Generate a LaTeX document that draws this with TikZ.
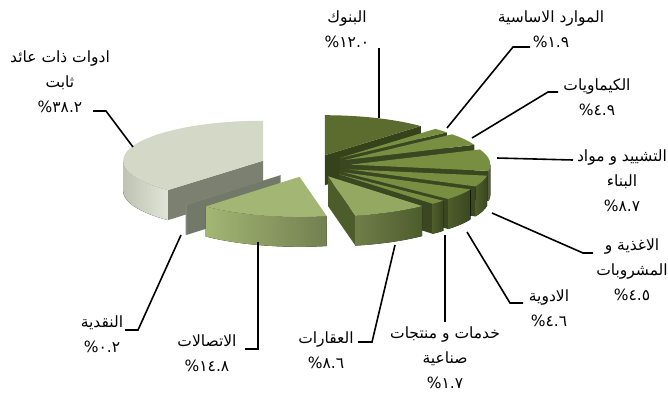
\documentclass[tikz,border=0pt]{standalone}
\usepackage{fontspec}
\newfontfamily\arabicfont[Script=Arabic]{DejaVu Sans}
\TeXXeTstate=1
\usetikzlibrary{positioning}

\definecolor{fixedtop}{HTML}{D3D9C6}
\definecolor{fixedside}{HTML}{7B8071}
\definecolor{cashtop}{HTML}{80867A}
\definecolor{cashside}{HTML}{737968}
\definecolor{commtop}{HTML}{A3B673}
\definecolor{realtop}{HTML}{94A862}
\definecolor{realside}{HTML}{4D5C2B}
\definecolor{banktop}{HTML}{5C6C2F}
\definecolor{bankside}{HTML}{35421A}
\definecolor{olivetop}{HTML}{788F41}
\definecolor{oliveside}{HTML}{3A4720}

\tikzset{
  leader/.style={draw=black, line width=1.6pt},
  sectorlabel/.style={font=\arabicfont\fontsize{15.5}{25}\selectfont, align=center, inner sep=0pt},
}

% one exploded slice: start, end, explode, top, side, rim
\newcommand{\pieslice}[6]{%
  \begin{scope}[shift={({(#1+#2)/2}:{#3*140pt} and {#3*40pt})}]
    \pgfmathsetmacro{\cosa}{cos(#1)}%
    \pgfmathsetmacro{\cosb}{cos(#2)}%
    \pgfmathsetmacro{\rima}{max(#1,-180)}%
    \pgfmathsetmacro{\rimb}{min(#2,0)}%
    \ifdim\cosa pt>0.001pt
      \fill[#5] (0pt,0pt) -- (#1:140pt and 40pt) -- ++(0pt,-30pt) -- (0pt,-30pt) -- cycle;
    \fi
    \ifdim\cosb pt<-0.001pt
      \fill[#5] (0pt,0pt) -- (#2:140pt and 40pt) -- ++(0pt,-30pt) -- (0pt,-30pt) -- cycle;
    \fi
    \ifdim\rima pt<\rimb pt
      \fill[#6] (\rima:140pt and 40pt) arc[start angle=\rima, end angle=\rimb, x radius=140pt, y radius=40pt]
        -- ++(0pt,-30pt) arc[start angle=\rimb, end angle=\rima, x radius=140pt, y radius=40pt] -- cycle;
    \fi
    \fill[#4] (0pt,0pt) -- (#1:140pt and 40pt) arc[start angle=#1, end angle=#2, x radius=140pt, y radius=40pt] -- cycle;
  \end{scope}}

% percent line, sign on the left
\newcommand{\pct}[1]{\%\kern0pt #1}

\begin{document}
\begin{tikzpicture}[x=1pt, y=-1pt]
  \useasboundingbox (0,0) rectangle (668,394);

  % pie
  \begin{scope}[shift={(310,166)}]
    \pieslice{46.8}{90}{0.29}{fill=banktop}{fill=bankside}{fill=bankside}
    \pieslice{39.96}{46.8}{0.29}{fill=olivetop}{fill=oliveside}{fill=oliveside}
    \pieslice{22.32}{39.96}{0.29}{fill=olivetop}{fill=oliveside}{fill=oliveside}
    \pieslice{-270}{-132.82}{0.36}{fill=fixedtop}{fill=fixedside}{left color=fixedtop!90!black, right color=fixedtop!70!white}
    \pieslice{-8.98}{22.32}{0.29}{fill=olivetop}{fill=oliveside}{left color=olivetop!70!black, right color=oliveside}
    \pieslice{-25.18}{-8.98}{0.29}{fill=olivetop}{fill=oliveside}{left color=olivetop!65!black, right color=oliveside}
    \pieslice{-41.74}{-25.18}{0.29}{fill=olivetop}{fill=oliveside}{left color=olivetop!65!black, right color=oliveside}
    \pieslice{-47.86}{-41.74}{0.29}{fill=olivetop}{fill=oliveside}{left color=olivetop!65!black, right color=oliveside}
    \pieslice{-132.82}{-132.1}{0.31}{fill=cashtop}{fill=cashside}{fill=cashtop}
    \pieslice{-78.82}{-47.86}{0.29}{fill=realtop}{fill=realside}{left color=realtop!75!black, right color=realside}
    \pieslice{-132.1}{-78.82}{0.28}{fill=commtop}{fill=commtop}{left color=commtop, right color=commtop!70!black}
  \end{scope}

  % labels
  \node[sectorlabel] (lbanks) at (347,29) {\beginR البنوك\endR\\\pct{١٢.٠}};
  \node[sectorlabel] (lbasic) at (551,29) {\beginR الموارد الاساسية\endR\\\pct{١.٩}};
  \node[sectorlabel] (lchem) at (597,97) {\beginR الكيماويات\endR\\\pct{٤.٩}};
  \node[sectorlabel] (lconstr) at (622,181) {\beginR التشييد و مواد\endR\\\beginR البناء\endR\\\pct{٨.٧}};
  \node[sectorlabel] (lfood) at (632,270) {\beginR الاغذية و\endR\\\beginR المشروبات\endR\\\pct{٤.٥}};
  \node[sectorlabel] (lpharma) at (549,308) {\beginR الادوية\endR\\\pct{٤.٦}};
  \node[sectorlabel] (lind) at (445,358) {\beginR خدمات و منتجات\endR\\\beginR صناعية\endR\\\pct{١.٧}};
  \node[sectorlabel] (lreal) at (326,350) {\beginR العقارات\endR\\\pct{٨.٦}};
  \node[sectorlabel] (lcomm) at (207,353) {\beginR الاتصالات\endR\\\pct{١٤.٨}};
  \node[sectorlabel] (lcash) at (102,334) {\beginR النقدية\endR\\\pct{٠.٢}};
  \node[sectorlabel] (lfixed) at (60,82) {\beginR ادوات ذات عائد\endR\\\beginR ثابت\endR\\\pct{٣٨.٢}};

  % leader ends
  \coordinate (sbanks) at (379,48);   \coordinate (pbanks) at (379,118);
  \coordinate (sbasic) at (530,47);   \coordinate (kbasic) at (513,47);   \coordinate (pbasic) at (447,128);
  \coordinate (schem) at (558,92);    \coordinate (kchem) at (548,92);    \coordinate (pchem) at (472,138);
  \coordinate (sconstr) at (573,160); \coordinate (pconstr) at (497,158);
  \coordinate (sfood) at (593,253);   \coordinate (kfood) at (583,253);   \coordinate (pfood) at (492,213);
  \coordinate (spharma) at (523,303); \coordinate (kpharma) at (510,303); \coordinate (ppharma) at (467,232);
  \coordinate (sind) at (445,322);    \coordinate (pind) at (445,235);
  \coordinate (sreal) at (358,342);   \coordinate (kreal) at (372,342);   \coordinate (preal) at (395,245);
  \coordinate (scomm) at (245,349);   \coordinate (kcomm) at (258,349);   \coordinate (pcomm) at (258,242);
  \coordinate (scash) at (125,330);   \coordinate (kcash) at (138,330);   \coordinate (pcash) at (181,235);
  \coordinate (sfixed) at (93,111);   \coordinate (kfixed) at (106,111);  \coordinate (pfixed) at (133,147);

  % leaders
  \draw[leader] (sbanks) -- (pbanks);
  \draw[leader] (sbasic) -- (kbasic) -- (pbasic);
  \draw[leader] (schem) -- (kchem) -- (pchem);
  \draw[leader] (sconstr) -- (pconstr);
  \draw[leader] (sfood) -- (kfood) -- (pfood);
  \draw[leader] (spharma) -- (kpharma) -- (ppharma);
  \draw[leader] (sind) -- (pind);
  \draw[leader] (sreal) -- (kreal) -- (preal);
  \draw[leader] (scomm) -- (kcomm) -- (pcomm);
  \draw[leader] (scash) -- (kcash) -- (pcash);
  \draw[leader] (sfixed) -- (kfixed) -- (pfixed);
\end{tikzpicture}
\end{document}
